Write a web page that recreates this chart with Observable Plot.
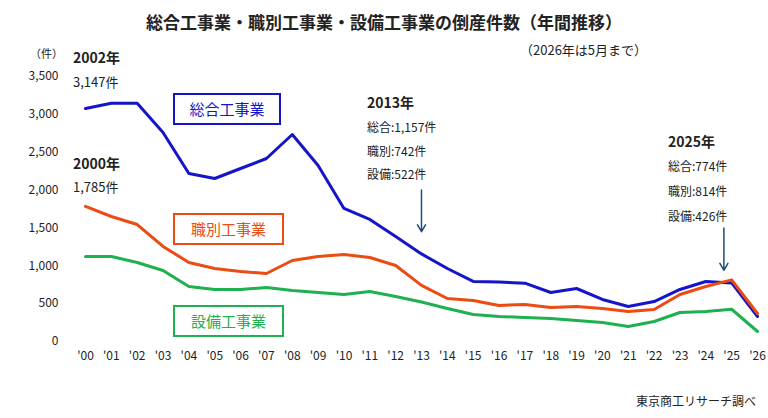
<!DOCTYPE html>
<html><head><meta charset="utf-8">
<script src="https://cdn.jsdelivr.net/npm/d3@7"></script>
<script src="https://cdn.jsdelivr.net/npm/@observablehq/plot@0.6"></script>
<style>
body{margin:0;font-family:"Noto Sans CJK JP","Noto Sans",sans-serif;background:#fff}
#wrap{position:relative;width:768px;height:418px}
.t{position:absolute;white-space:nowrap;color:#222;font-size:12px}
.box{position:absolute;border:2px solid;background:#fff;font-size:15px;text-align:center;line-height:28px}
</style></head><body>
<div id="wrap"></div>
<script>
const years = d3.range(2000, 2027);
const tickLabels = years.map(y => "'" + String(y % 100).padStart(2, "0"));
const sogo = [3078,3147,3147,2760,2219,2153,2285,2417,2734,2325,1757,1612,1387,1157,964,793,785,770,647,700,555,462,528,687,793,774,330];
const shokubetsu = [1785,1651,1545,1255,1044,964,925,898,1070,1123,1149,1110,1004,742,568,542,476,489,449,462,436,396,423,621,727,814,370];
const setsubi = [1123,1123,1044,938,727,687,687,713,674,647,621,660,594,522,436,357,330,317,304,277,251,198,264,383,396,426,132];
const series = [
  {name:"総合工事業", values:sogo, color:"#1414c8"},
  {name:"職別工事業", values:shokubetsu, color:"#ec4b12"},
  {name:"設備工事業", values:setsubi, color:"#1fb050"}
];
const rows = series.flatMap(s => s.values.map((v,i)=>({year:years[i], value:v, name:s.name})));
const arrows = [{x:2013, y1:2000, y2:1450},{x:2024.7, y1:1500, y2:940}];
const chart = Plot.plot({
  width:768, height:418, marginTop:76, marginBottom:77, marginLeft:72, marginRight:11,
  style:{fontFamily:"Noto Sans CJK JP, sans-serif", fontSize:"12px", color:"#222"},
  x:{domain:[2000,2026], range:[85,757], ticks:years, tickFormat:(d,i)=>tickLabels[i], tickSize:0, label:null, tickPadding:10},
  y:{domain:[0,3500], ticks:d3.range(0,3501,500), tickFormat:d3.format(","), tickSize:0, label:null, tickPadding:14},
  color:{domain:series.map(s=>s.name), range:series.map(s=>s.color)},
  marks:[
    Plot.line(rows,{x:"year", y:"value", z:"name", stroke:"name", strokeWidth:3}),
    Plot.arrow(arrows,{x1:"x", x2:"x", y1:"y1", y2:"y2", stroke:"#1f4e79", strokeWidth:1.5, headLength:8})
  ]
});
const wrap = document.getElementById("wrap");
wrap.appendChild(chart);
const add = (html, css, cls="t") => { const d=document.createElement("div"); d.className=cls; d.innerHTML=html; d.style.cssText=css; wrap.appendChild(d); };
add("総合工事業・職別工事業・設備工事業の倒産件数（年間推移）","left:0;width:768px;text-align:center;top:9px;font-size:17px;font-weight:bold");
add("（2026年は5月まで）","left:520px;top:40px;font-size:13px");
add("（件）","left:30px;top:45px;font-size:11px");
add("東京商工リサーチ調べ","left:636px;top:392px;font-size:12px");
add("2002年","left:73px;top:47px;font-size:14px;font-weight:bold");
add("3,147件","left:73px;top:72px;font-size:13px");
add("2000年","left:73px;top:153px;font-size:14px;font-weight:bold");
add("1,785件","left:73px;top:177px;font-size:13px");
add("2013年","left:367px;top:92px;font-size:14px;font-weight:bold");
add("総合:1,157件<br>職別:742件<br>設備:522件","left:367px;top:115px;font-size:12px;line-height:23.5px");
add("2025年","left:668px;top:131px;font-size:14px;font-weight:bold");
add("総合:774件<br>職別:814件<br>設備:426件","left:668px;top:153px;font-size:12px;line-height:25px");
add("総合工事業","left:173px;top:93px;width:104px;height:28px;border-color:#1414c8;color:#1414c8","box");
add("職別工事業","left:173px;top:213px;width:107px;height:28px;border-color:#ec4b12;color:#ec4b12","box");
add("設備工事業","left:173px;top:305px;width:107px;height:28px;border-color:#1fb050;color:#1fb050","box");
</script></body></html>
